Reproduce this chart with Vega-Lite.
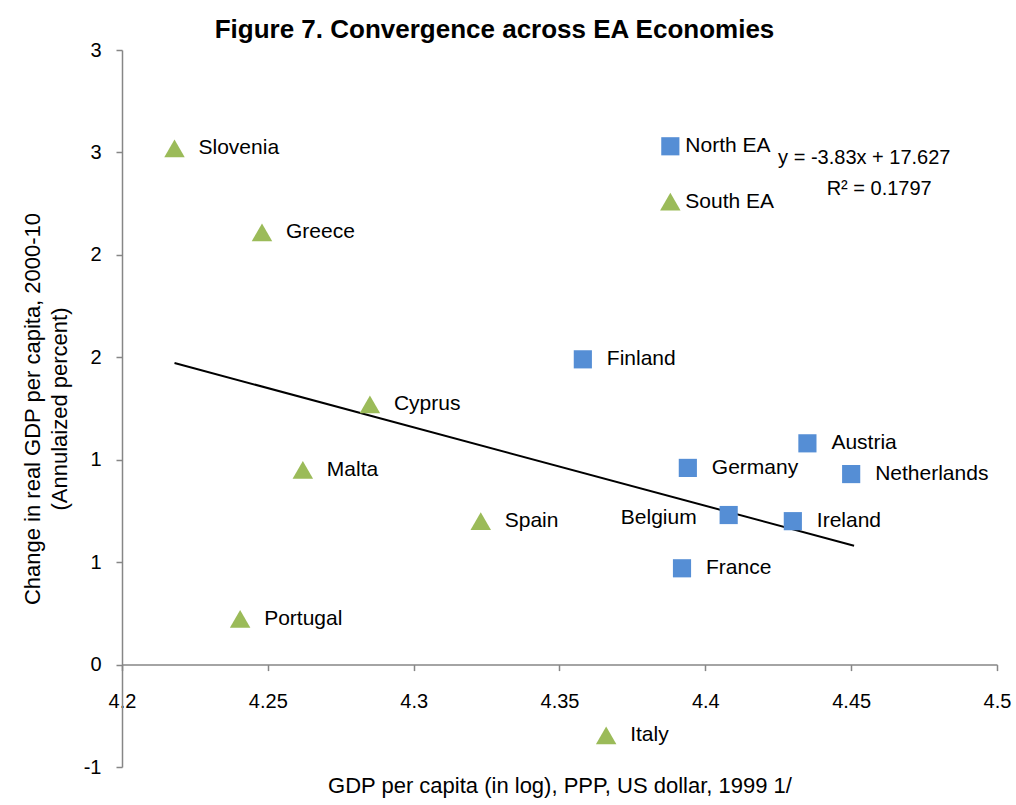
{
  "$schema": "https://vega.github.io/schema/vega-lite/v6.json",
  "width": 875,
  "height": 717,
  "autosize": {"type": "none"},
  "padding": {"left": 122, "top": 50, "right": 19, "bottom": 38},
  "background": "white",
  "title": {
    "text": "Figure 7. Convergence across EA Economies",
    "font": "Liberation Sans",
    "fontSize": 26,
    "fontWeight": "bold",
    "color": "black",
    "anchor": "middle",
    "dx": -65,
    "offset": -3
  },
  "config": {
    "view": {"stroke": null},
    "font": "Liberation Sans"
  },
  "datasets": {
    "economies": [
      {"country": "Slovenia", "gdp": 4.218, "growth": 2.52, "region": "South", "kind": "country"},
      {"country": "Greece", "gdp": 4.248, "growth": 2.11, "region": "South", "kind": "country"},
      {"country": "Portugal", "gdp": 4.2405, "growth": 0.223, "region": "South", "kind": "country"},
      {"country": "Malta", "gdp": 4.262, "growth": 0.95, "region": "South", "kind": "country"},
      {"country": "Cyprus", "gdp": 4.285, "growth": 1.27, "region": "South", "kind": "country"},
      {"country": "Spain", "gdp": 4.323, "growth": 0.70, "region": "South", "kind": "country"},
      {"country": "Italy", "gdp": 4.366, "growth": -0.346, "region": "South", "kind": "country"},
      {"country": "Finland", "gdp": 4.358, "growth": 1.49, "region": "North", "kind": "country"},
      {"country": "France", "gdp": 4.392, "growth": 0.47, "region": "North", "kind": "country"},
      {"country": "Germany", "gdp": 4.394, "growth": 0.96, "region": "North", "kind": "country"},
      {"country": "Belgium", "gdp": 4.408, "growth": 0.73, "region": "North", "kind": "country"},
      {"country": "Ireland", "gdp": 4.430, "growth": 0.70, "region": "North", "kind": "country"},
      {"country": "Austria", "gdp": 4.435, "growth": 1.08, "region": "North", "kind": "country"},
      {"country": "Netherlands", "gdp": 4.450, "growth": 0.93, "region": "North", "kind": "country"},
      {"country": "North EA", "gdp": 4.388, "growth": 2.53, "region": "North", "kind": "average"},
      {"country": "South EA", "gdp": 4.388, "growth": 2.26, "region": "South", "kind": "average"}
    ],
    "trend": [
      {"gdp": 4.218, "growth": 1.472},
      {"gdp": 4.451, "growth": 0.580}
    ],
    "equation": [
      {"text": "y = -3.83x + 17.627", "gdp": 4.4545, "growth": 2.473},
      {"text": "R² = 0.1797", "gdp": 4.4596, "growth": 2.322}
    ]
  },
  "encoding": {
    "x": {
      "field": "gdp",
      "type": "quantitative",
      "scale": {"domain": [4.2, 4.5], "nice": false, "zero": false},
      "axis": {
        "title": "GDP per capita (in log), PPP, US dollar, 1999 1/",
        "titleFont": "Liberation Sans",
        "titleFontSize": 22,
        "titleFontWeight": "normal",
        "titleColor": "black",
        "titleY": 128,
        "titleBaseline": "alphabetic",
        "offset": -102.4,
        "values": [4.2, 4.25, 4.3, 4.35, 4.4, 4.45, 4.5],
        "format": "~g",
        "labelFont": "Liberation Sans",
        "labelFontSize": 20,
        "labelColor": "black",
        "labelPadding": 21,
        "labelFlush": false,
        "domainColor": "#868686",
        "domainWidth": 1.5,
        "tickColor": "#868686",
        "tickSize": 6,
        "tickWidth": 1.5,
        "grid": false
      }
    },
    "y": {
      "field": "growth",
      "type": "quantitative",
      "scale": {"domain": [-0.5, 3], "nice": false, "zero": false},
      "axis": {
        "title": ["Change in real GDP per capita, 2000-10", "(Annulaized percent)"],
        "titleFont": "Liberation Sans",
        "titleFontSize": 22,
        "titleFontWeight": "normal",
        "titleColor": "black",
        "titlePadding": 12,
        "titleLineHeight": 27,
        "values": [-0.5, 0, 0.5, 1, 1.5, 2, 2.5, 3],
        "labelExpr": "datum.value < 0 ? '-' + round(-datum.value) : '' + round(datum.value)",
        "labelFont": "Liberation Sans",
        "labelFontSize": 20,
        "labelColor": "black",
        "labelPadding": 15,
        "labelFlush": false,
        "domainColor": "#868686",
        "domainWidth": 1.5,
        "tickColor": "#868686",
        "tickSize": 6,
        "tickWidth": 1.5,
        "grid": false
      }
    }
  },
  "layer": [
    {
      "data": {"name": "trend"},
      "mark": {"type": "line", "color": "black", "strokeWidth": 2}
    },
    {
      "data": {"name": "economies"},
      "transform": [{"filter": "datum.region == 'North'"}],
      "mark": {"type": "point", "shape": "square", "filled": true, "opacity": 1, "size": 330, "color": "#558ED5"}
    },
    {
      "data": {"name": "economies"},
      "transform": [{"filter": "datum.region == 'South'"}],
      "mark": {"type": "point", "shape": "triangle-up", "filled": true, "opacity": 1, "size": 420, "color": "#9BBB59"}
    },
    {
      "data": {"name": "economies"},
      "transform": [{"filter": "datum.kind == 'country' && datum.country != 'Belgium'"}],
      "mark": {"type": "text", "align": "left", "baseline": "middle", "dx": 24, "fontSize": 21, "color": "black"},
      "encoding": {"text": {"field": "country"}}
    },
    {
      "data": {"name": "economies"},
      "transform": [{"filter": "datum.country == 'Belgium'"}],
      "mark": {"type": "text", "align": "right", "baseline": "middle", "dx": -32, "dy": 3, "fontSize": 21, "color": "black"},
      "encoding": {"text": {"field": "country"}}
    },
    {
      "data": {"name": "economies"},
      "transform": [{"filter": "datum.kind == 'average'"}],
      "mark": {"type": "text", "align": "left", "baseline": "middle", "dx": 15, "fontSize": 21, "color": "black"},
      "encoding": {"text": {"field": "country"}}
    },
    {
      "data": {"name": "equation"},
      "mark": {"type": "text", "align": "center", "baseline": "middle", "fontSize": 20, "color": "black"},
      "encoding": {"text": {"field": "text"}}
    }
  ]
}
